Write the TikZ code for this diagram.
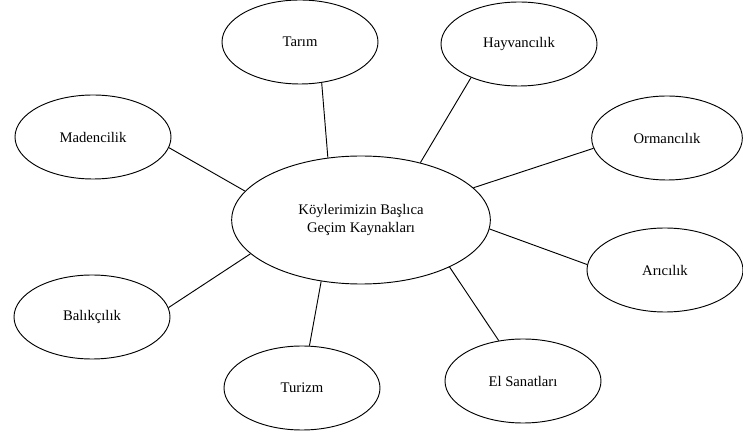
\documentclass[tikz,border=0pt]{standalone}
\usepackage{fontspec}
\setmainfont{Liberation Serif}
\usetikzlibrary{shapes.geometric}

\begin{document}
\begin{tikzpicture}[x=0.75pt,y=-0.75pt,line width=0.7pt,
		kaynak/.style={ellipse,draw,inner sep=0pt,minimum width=117pt,minimum height=63pt,font=\fontsize{11}{13}\selectfont},
		merkez/.style={ellipse,draw,inner sep=0pt,minimum width=194pt,minimum height=96pt,align=center,font=\fontsize{11}{13}\selectfont}]
		\useasboundingbox (0,0) rectangle (743,434);

		\node[merkez] (koy) at (361,220) {K\"oylerimizin Ba\c{s}l\i ca\\Ge\c{c}im Kaynaklar\i};

		\node[kaynak] (tarim) at (300,42) {Tar\i m};
		\node[kaynak] (hayvan) at (519,44) {Hayvanc\i l\i k};
		\node[kaynak,minimum width=113pt] (orman) at (667,138) {Ormanc\i l\i k};
		\node[kaynak] (ari) at (665,270) {Ar\i c\i l\i k};
		\node[kaynak] (el) at (523,381) {El Sanatlar\i};
		\node[kaynak] (turizm) at (302,388) {Turizm};
		\node[kaynak] (balik) at (92,317) {Bal\i k\c{c}\i l\i k};
		\node[kaynak] (maden) at (93,137) {Madencilik};

		\draw (tarim.-62) -- (koy.118);
		\draw (hayvan.215) -- (koy.44);
		\draw (orman.188) -- (koy.16);
		\draw (ari.176) -- (koy.-4);
		\draw (el.121) -- (koy.-28);
		\draw (turizm.80) -- (koy.-123);
		\draw (balik.7) -- (koy.197);
		\draw (maden.-8) -- (koy.166);
	\end{tikzpicture}
\end{document}
